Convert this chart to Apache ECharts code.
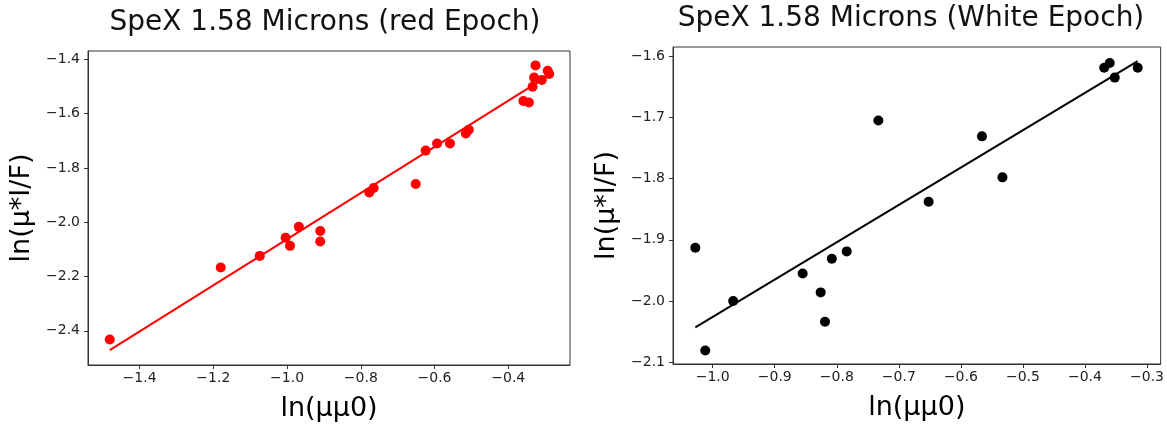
<!DOCTYPE html>
<html>
<head>
<meta charset="utf-8">
<script src="https://cdn.jsdelivr.net/npm/echarts@6/dist/echarts.min.js"></script>
<style>
  html, body { margin: 0; padding: 0; background: #fff; }
  #chart { width: 1167px; height: 427px; }
</style>
</head>
<body>
<div id="chart"></div>
<script>
  // red epoch: ln(mu mu0) vs ln(mu*I/F)
  const redX = [-1.481, -1.180, -1.074, -1.004, -0.992, -0.968, -0.910, -0.910,
    -0.777, -0.765, -0.651, -0.624, -0.593, -0.558, -0.515, -0.507,
    -0.359, -0.344, -0.334, -0.330, -0.326, -0.309, -0.293, -0.289]
  const redY = [-2.432, -2.167, -2.124, -2.057, -2.087, -2.017, -2.032, -2.071,
    -1.890, -1.874, -1.859, -1.736, -1.710, -1.710, -1.673, -1.659,
    -1.553, -1.559, -1.501, -1.467, -1.422, -1.476, -1.442, -1.454]
  const redFitX = [-1.481, -0.289]
  const redFitY = [-2.471, -1.458]

  // white epoch
  const whiteX = [-1.028, -1.012, -0.967, -0.855, -0.826, -0.819, -0.808, -0.784,
    -0.733, -0.652, -0.566, -0.533, -0.369, -0.360, -0.352, -0.315]
  const whiteY = [-1.913, -2.081, -2.000, -1.955, -1.986, -2.034, -1.931, -1.919,
    -1.705, -1.838, -1.731, -1.798, -1.619, -1.611, -1.635, -1.619]
  const whiteFitX = [-1.028, -0.315]
  const whiteFitY = [-2.043, -1.608]

  // tick labels
  const redXTicks = [-1.4, -1.2, -1.0, -0.8, -0.6, -0.4]
  const redYTicks = [-2.4, -2.2, -2.0, -1.8, -1.6, -1.4]
  const whiteXTicks = [-1.0, -0.9, -0.8, -0.7, -0.6, -0.5, -0.4, -0.3]
  const whiteYTicks = [-2.1, -2.0, -1.9, -1.8, -1.7, -1.6]

  const titles = ['SpeX 1.58 Microns (red Epoch)', 'SpeX 1.58 Microns (White Epoch)']
  const xName = 'ln(μμ0)'
  const yName = 'ln(μ*I/F)'

  const font = 'DejaVu Sans'
  const fmt = v => (v < 0 ? '\u2212' : '') + Math.abs(v).toFixed(1)
  const pairs = (xs, ys) => xs.map((x, i) => [x, ys[i]])

  function valAxis (idx, min, max, ticks, name, gap, isY) {
    return {
      type: 'value',
      gridIndex: idx,
      min: min,
      max: max,
      name: name,
      nameLocation: 'middle',
      nameGap: gap,
      nameRotate: isY ? 90 : 0,
      nameTextStyle: {fontFamily: font, fontSize: 27, color: '#000'},
      splitLine: {show: false},
      axisLine: {show: true, lineStyle: {color: '#333', width: 1}},
      axisTick: {show: true, inside: false, length: 4, customValues: ticks, lineStyle: {color: '#333'}},
      axisLabel: {customValues: ticks, formatter: fmt, fontFamily: font, fontSize: 14, color: '#222', margin: isY ? 8 : 6}
    }
  }

  const myChart = echarts.init(document.getElementById('chart'))
  const option = {
    animation: false,
    backgroundColor: '#fff',
    title: [
      {text: titles[0], left: 320, top: 4, textAlign: 'center',
        textStyle: {fontFamily: font, fontSize: 28, fontWeight: 'normal', color: '#111'}},
      {text: titles[1], left: 906, top: 0, textAlign: 'center',
        textStyle: {fontFamily: font, fontSize: 28, fontWeight: 'normal', color: '#111'}}
    ],
    grid: [
      {left: 88, top: 51, width: 482, height: 314, show: true, borderColor: '#333', borderWidth: 1},
      {left: 673, top: 47, width: 489, height: 317, show: true, borderColor: '#333', borderWidth: 1}
    ],
    xAxis: [
      valAxis(0, -1.54, -0.2325, redXTicks, xName, 30, false),
      valAxis(1, -1.064, -0.278, whiteXTicks, xName, 30, false)
    ],
    yAxis: [
      valAxis(0, -2.526, -1.369, redYTicks, yName, 53, true),
      valAxis(1, -2.103, -1.585, whiteYTicks, yName, 53, true)
    ],
    series: [
      {
        type: 'line', xAxisIndex: 0, yAxisIndex: 0,
        data: pairs(redFitX, redFitY), showSymbol: false,
        lineStyle: {color: '#ff0000', width: 2}
      },
      {
        type: 'scatter', xAxisIndex: 0, yAxisIndex: 0,
        data: pairs(redX, redY), symbolSize: 10,
        itemStyle: {color: '#ff0000', opacity: 1}
      },
      {
        type: 'line', xAxisIndex: 1, yAxisIndex: 1,
        data: pairs(whiteFitX, whiteFitY), showSymbol: false,
        lineStyle: {color: '#000', width: 2}
      },
      {
        type: 'scatter', xAxisIndex: 1, yAxisIndex: 1,
        data: pairs(whiteX, whiteY), symbolSize: 10,
        itemStyle: {color: '#000', opacity: 1}
      }
    ]
  }
  myChart.setOption(option)
</script>
</body>
</html>
